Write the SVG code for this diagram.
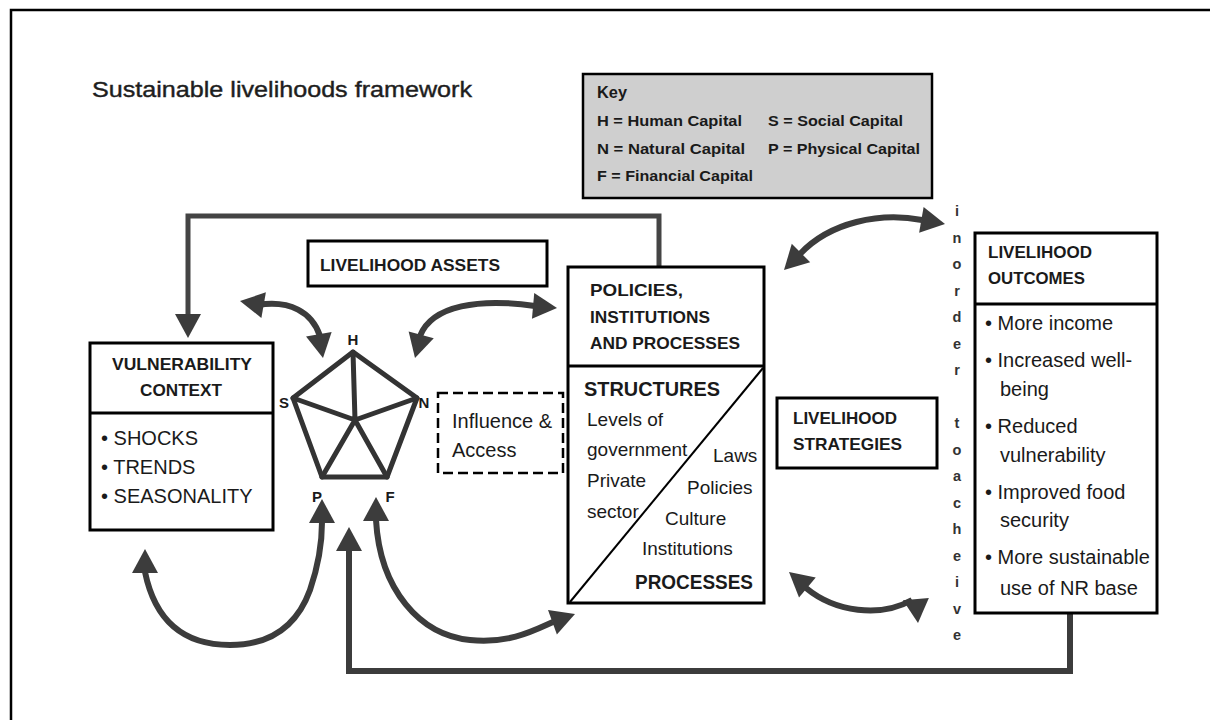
<svg xmlns="http://www.w3.org/2000/svg" xmlns:xlink="http://www.w3.org/1999/xlink" width="1210" height="720" viewBox="0 0 1210 720">
<style>
text{font-family:"Liberation Sans",Arial,sans-serif;fill:#1a1a1a}
.hd{font-weight:bold;font-size:16.5px}
.body{font-size:20px}
.key{font-weight:bold;font-size:14.5px}
.lbl{font-weight:bold;font-size:15px;text-anchor:middle}
.vert{font-weight:bold;font-size:14.5px;text-anchor:middle;fill:#333}
.box{fill:#fff;stroke:#000;stroke-width:3}
.div{stroke:#000;stroke-width:3}
.curve{fill:none;stroke:#3c3c3c;stroke-width:6}
.fb{fill:none;stroke:#444;stroke-width:5}
.head{fill:#3c3c3c}
.pent{fill:none;stroke:#333;stroke-width:5;stroke-linejoin:round;stroke-linecap:round}
</style>
<defs>
<path id="ah" d="M0,0 L-24,-13 L-24,13 Z"/>
</defs>
<rect x="0" y="0" width="1210" height="720" fill="#fff"/>
<rect x="11" y="10" width="1210" height="720" fill="none" stroke="#000" stroke-width="2.5"/>
<text x="92" y="97" style="font-size:22px;fill:#1e1e1e;stroke:#1e1e1e;stroke-width:0.4" textLength="380" lengthAdjust="spacingAndGlyphs">Sustainable livelihoods framework</text>

<g id="key">
<rect x="583" y="74" width="349" height="124" fill="#cfcfcf" stroke="#000" stroke-width="2.5"/>
<text x="597" y="98" style="font-weight:bold;font-size:17px" textLength="30" lengthAdjust="spacingAndGlyphs">Key</text>
<text class="key" x="597" y="126" textLength="145" lengthAdjust="spacingAndGlyphs">H = Human Capital</text>
<text class="key" x="768" y="126" textLength="135" lengthAdjust="spacingAndGlyphs">S = Social Capital</text>
<text class="key" x="597" y="154" textLength="148" lengthAdjust="spacingAndGlyphs">N = Natural Capital</text>
<text class="key" x="768" y="154" textLength="152" lengthAdjust="spacingAndGlyphs">P = Physical Capital</text>
<text class="key" x="597" y="181" textLength="156" lengthAdjust="spacingAndGlyphs">F = Financial Capital</text>
</g>

<g id="connectors">
<path class="fb" d="M659 267 V216 H188 V316"/>
<use href="#ah" class="head" transform="translate(188,338) rotate(90)"/>
<path class="curve" d="M258 305 C290 300 312 312 320 336"/>
<use href="#ah" class="head" transform="translate(240,301) rotate(190)"/>
<use href="#ah" class="head" transform="translate(323,358) rotate(80)"/>
<path class="curve" d="M420 336 C432 305 480 298 535 306"/>
<use href="#ah" class="head" transform="translate(415,358) rotate(105)"/>
<use href="#ah" class="head" transform="translate(557,308) rotate(5)"/>
<path class="curve" d="M800 254 C830 222 880 212 922 220"/>
<use href="#ah" class="head" transform="translate(784,270) rotate(135)"/>
<use href="#ah" class="head" transform="translate(945,224) rotate(10)"/>
<path class="curve" d="M806 588 C835 612 880 618 912 600"/>
<use href="#ah" class="head" transform="translate(789,572) rotate(220)"/>
<use href="#ah" class="head" transform="translate(918,623) rotate(85)"/>
<path class="curve" d="M145 572 Q160 645 230 645 Q290 645 310 590 Q322 555 322 522"/>
<use href="#ah" class="head" transform="translate(145,549) rotate(270)"/>
<use href="#ah" class="head" transform="translate(322,499) rotate(270)"/>
<path class="curve" d="M1070 613 V671 H349 V550"/>
<use href="#ah" class="head" transform="translate(349,527) rotate(270)"/>
<path class="curve" d="M376 520 C380 590 420 635 470 640 C510 644 535 630 553 622"/>
<use href="#ah" class="head" transform="translate(376,497) rotate(270)"/>
<use href="#ah" class="head" transform="translate(575,614) rotate(-20)"/>
</g>

<g id="vulnerability-context">
<rect class="box" x="90" y="343" width="183" height="187"/>
<line class="div" x1="90" y1="413" x2="273" y2="413"/>
<text class="hd" x="182" y="370" text-anchor="middle" textLength="140" lengthAdjust="spacingAndGlyphs">VULNERABILITY</text>
<text class="hd" x="181" y="396" text-anchor="middle" textLength="82" lengthAdjust="spacingAndGlyphs">CONTEXT</text>
<text class="body" x="101" y="445">• SHOCKS</text>
<text class="body" x="101" y="474">• TRENDS</text>
<text class="body" x="101" y="503">• SEASONALITY</text>
</g>

<g id="livelihood-assets">
<rect class="box" x="308" y="241" width="239" height="45"/>
<text class="hd" x="320" y="271" textLength="180" lengthAdjust="spacingAndGlyphs">LIVELIHOOD ASSETS</text>
</g>

<g id="asset-pentagon">
<path class="pent" d="M353 352 L417 398 L387 477 L322 477 L293 398 Z"/>
<path class="pent" d="M353 352 L355 420 M293 398 L355 420 M417 398 L355 420 M322 477 L355 420 M387 477 L355 420"/>
<text class="lbl" x="353" y="345">H</text>
<text class="lbl" x="284" y="408">S</text>
<text class="lbl" x="424" y="408">N</text>
<text class="lbl" x="317" y="502">P</text>
<text class="lbl" x="390" y="502">F</text>
</g>

<g id="influence-access">
<rect x="438" y="393" width="125" height="80" fill="none" stroke="#000" stroke-width="2.5" stroke-dasharray="10 5"/>
<text class="body" x="452" y="428">Influence &amp;</text>
<text class="body" x="452" y="457">Access</text>
</g>

<g id="policies-institutions-processes">
<rect class="box" x="568" y="267" width="196" height="336"/>
<line class="div" x1="568" y1="366" x2="764" y2="366"/>
<line x1="570" y1="602" x2="763" y2="368" stroke="#000" stroke-width="2"/>
<text class="hd" x="590" y="296" textLength="93" lengthAdjust="spacingAndGlyphs">POLICIES,</text>
<text class="hd" x="590" y="323" textLength="120" lengthAdjust="spacingAndGlyphs">INSTITUTIONS</text>
<text class="hd" x="590" y="349" textLength="150" lengthAdjust="spacingAndGlyphs">AND PROCESSES</text>
<text x="584" y="396" style="font-weight:bold;font-size:20px" textLength="136" lengthAdjust="spacingAndGlyphs">STRUCTURES</text>
<text x="587" y="426" style="font-size:19px">Levels of</text>
<text x="587" y="456" style="font-size:19px">government</text>
<text x="713" y="462" style="font-size:19px">Laws</text>
<text x="587" y="487" style="font-size:19px">Private</text>
<text x="687" y="494" style="font-size:19px">Policies</text>
<text x="587" y="518" style="font-size:19px">sector</text>
<text x="665" y="525" style="font-size:19px">Culture</text>
<text x="642" y="555" style="font-size:19px">Institutions</text>
<text x="635" y="589" style="font-weight:bold;font-size:20px" textLength="118" lengthAdjust="spacingAndGlyphs">PROCESSES</text>
</g>

<g id="livelihood-strategies">
<rect class="box" x="777" y="398" width="160" height="70"/>
<text class="hd" x="793" y="424" textLength="104" lengthAdjust="spacingAndGlyphs">LIVELIHOOD</text>
<text class="hd" x="793" y="450" textLength="109" lengthAdjust="spacingAndGlyphs">STRATEGIES</text>
</g>

<g id="in-order-to-achieve">
<text class="vert"><tspan x="957" y="216">i</tspan><tspan x="957" y="243">n</tspan><tspan x="957" y="269">o</tspan><tspan x="957" y="296">r</tspan><tspan x="957" y="322">d</tspan><tspan x="957" y="349">e</tspan><tspan x="957" y="375">r</tspan><tspan x="957" y="428">t</tspan><tspan x="957" y="455">o</tspan><tspan x="957" y="481">a</tspan><tspan x="957" y="508">c</tspan><tspan x="957" y="534">h</tspan><tspan x="957" y="561">e</tspan><tspan x="957" y="587">i</tspan><tspan x="957" y="614">v</tspan><tspan x="957" y="640">e</tspan></text>
</g>

<g id="livelihood-outcomes">
<rect class="box" x="975" y="233" width="182" height="380"/>
<line class="div" x1="975" y1="304" x2="1157" y2="304"/>
<text class="hd" x="988" y="258" textLength="104" lengthAdjust="spacingAndGlyphs">LIVELIHOOD</text>
<text class="hd" x="988" y="284" textLength="97" lengthAdjust="spacingAndGlyphs">OUTCOMES</text>
<text class="body" x="985" y="330">• More income</text>
<text class="body" x="985" y="367">• Increased well-</text>
<text class="body" x="1000" y="396">being</text>
<text class="body" x="985" y="433">• Reduced</text>
<text class="body" x="1000" y="462">vulnerability</text>
<text class="body" x="985" y="499">• Improved food</text>
<text class="body" x="1000" y="527">security</text>
<text class="body" x="985" y="564">• More sustainable</text>
<text class="body" x="1000" y="595">use of NR base</text>
</g>
</svg>
